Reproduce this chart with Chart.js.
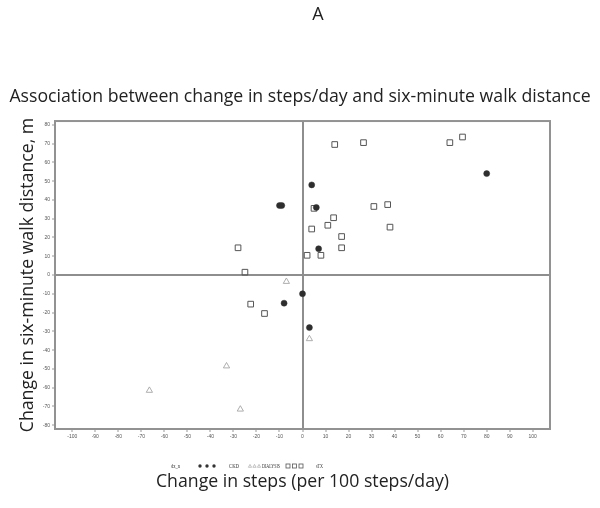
<!DOCTYPE html>
<html>
<head>
<meta charset="utf-8">
<script src="https://cdn.jsdelivr.net/npm/chart.js@4.4.1/dist/chart.umd.min.js"></script>
<style>
  html, body { margin: 0; padding: 0; background: #fff; }
  #wrap { width: 600px; height: 508px; }
</style>
</head>
<body>
<div id="wrap"><canvas id="myChart"></canvas></div>
<script>
// ---- data ----
const ckdSteps = [-10, -9, 4, 6, 7, 80, 0, -8, 3];
const ckdWalk = [37, 37, 48, 36, 14, 54, -10, -15, -28];

const dialysisSteps = [-7, 3, -33, -66.5, -27];
const dialysisWalk = [-3.5, -34, -48.5, -61.5, -71.5];

const stxSteps = [14, 26.5, 64, 69.5, 31, 37, 5, 13.5, 11, 4, 38, 17, 17, 2, 8, -28, -25, -22.5, -16.5];
const stxWalk = [69.5, 70.5, 70.5, 73.5, 36.5, 37.5, 35.5, 30.5, 26.5, 24.5, 25.5, 20.5, 14.5, 10.5, 10.5, 14.5, 1.5, -15.5, -20.5];

const xTicks = [-100, -90, -80, -70, -60, -50, -40, -30, -20, -10, 0, 10, 20, 30, 40, 50, 60, 70, 80, 90, 100];
const yTicks = [-80, -70, -60, -50, -40, -30, -20, -10, 0, 10, 20, 30, 40, 50, 60, 70, 80];

const titleFont = "'Open Sans', 'Liberation Sans', sans-serif";

function toPoints(xs, ys) {
  return xs.map((x, i) => ({ x: x, y: ys[i] }));
}

// zero lines only, the rest of the grid stays hidden
function gridColor(ctx) {
  return ctx.tick && ctx.tick.value === 0 ? "#8e8e8e" : "rgba(0,0,0,0)";
}
function gridWidth(ctx) {
  return ctx.tick && ctx.tick.value === 0 ? 2 : 0;
}

// frame round the plot, panel letter and the SAS style legend
const extras = {
  id: "extras",
  afterDraw(chart) {
    const ctx = chart.ctx;
    const a = chart.chartArea;
    ctx.save();
    ctx.strokeStyle = "#929292";
    ctx.lineWidth = 2;
    ctx.strokeRect(a.left, a.top, a.right - a.left, a.bottom - a.top);

    ctx.fillStyle = "#222";
    ctx.font = "18px " + titleFont;
    ctx.textAlign = "center";
    ctx.textBaseline = "middle";
    ctx.fillText("A", 318, 15);

    // legend
    const ly = 466;
    ctx.font = "6px 'Liberation Serif', serif";
    ctx.textAlign = "left";
    ctx.fillStyle = "#333";
    ctx.fillText("dx_n", 171, ly, 9);
    ctx.fillText("CKD", 229, ly, 10);
    ctx.fillText("DIALYSIS", 262, ly, 18);
    ctx.fillText("sTX", 316, ly, 7);
    for (let i = 0; i < 3; i++) {
      ctx.beginPath();
      ctx.fillStyle = "#333";
      ctx.arc(200 + i * 7, ly, 1.7, 0, Math.PI * 2);
      ctx.fill();

      const tx = 250 + i * 4.5;
      ctx.beginPath();
      ctx.strokeStyle = "#aaa";
      ctx.lineWidth = 0.7;
      ctx.moveTo(tx, ly - 1.6);
      ctx.lineTo(tx + 1.6, ly + 1.3);
      ctx.lineTo(tx - 1.6, ly + 1.3);
      ctx.closePath();
      ctx.stroke();

      ctx.strokeStyle = "#555";
      ctx.lineWidth = 0.8;
      ctx.strokeRect(286 + i * 6.5, ly - 2, 4, 4);
    }
    ctx.restore();
  }
};

const data = {
  datasets: [
    {
      label: "CKD",
      data: toPoints(ckdSteps, ckdWalk),
      pointStyle: "circle",
      pointRadius: 3,
      backgroundColor: "#2e2e2e",
      borderColor: "#2e2e2e",
      borderWidth: 0.5,
    },
    {
      label: "DIALYSIS",
      data: toPoints(dialysisSteps, dialysisWalk),
      pointStyle: "triangle",
      pointRadius: 3.6,
      backgroundColor: "rgba(255,255,255,0)",
      borderColor: "#a5a5a5",
      borderWidth: 0.9,
    },
    {
      label: "sTX",
      data: toPoints(stxSteps, stxWalk),
      pointStyle: "rect",
      pointRadius: 4,
      backgroundColor: "rgba(255,255,255,0)",
      borderColor: "#555",
      borderWidth: 1,
    },
  ],
};

const config = {
  type: "scatter",
  data: data,
  plugins: [extras],
  options: {
    responsive: true,
    maintainAspectRatio: false,
    animation: false,
    layout: { padding: 0 },
    plugins: {
      legend: { display: false },
      tooltip: { enabled: false },
      title: {
        display: true,
        text: "Association between change in steps/day and six-minute walk distance",
        color: "#222",
        font: { family: titleFont, size: 17.7, weight: "normal" },
        padding: { top: 86.4, bottom: 13.4 },
      },
    },
    scales: {
      x: {
        type: "linear",
        min: -107.5,
        max: 107.5,
        afterBuildTicks: (s) => { s.ticks = xTicks.map((v) => ({ value: v })); },
        afterFit: (s) => { s.height = 79; },
        ticks: { color: "#555", font: { size: 5 }, padding: 2, maxRotation: 0, autoSkip: false },
        grid: { color: gridColor, lineWidth: gridWidth, tickColor: "#999", tickWidth: 1, tickLength: 3 },
        border: { display: false },
        title: {
          display: true,
          text: "Change in steps (per 100 steps/day)",
          color: "#222",
          font: { family: titleFont, size: 17.7 },
          padding: { top: 0, bottom: 15.5 },
        },
      },
      y: {
        type: "linear",
        min: -82,
        max: 82,
        afterBuildTicks: (s) => { s.ticks = yTicks.map((v) => ({ value: v })); },
        afterFit: (s) => { s.width = 55; },
        ticks: { color: "#555", font: { size: 5 }, padding: 2, autoSkip: false },
        grid: { color: gridColor, lineWidth: gridWidth, tickColor: "#999", tickWidth: 1, tickLength: 3 },
        border: { display: false },
        title: {
          display: true,
          text: "Change in six-minute walk distance, m",
          color: "#222",
          font: { family: titleFont, size: 17.7 },
          padding: { top: 17.4, bottom: 0 },
        },
      },
      // empty right-hand box, keeps the plot clear of the right edge
      yRight: {
        type: "linear",
        position: "right",
        min: -82,
        max: 82,
        afterFit: (s) => { s.width = 50; },
        ticks: { display: false },
        grid: { display: false },
        border: { display: false },
      },
    },
  },
};

const myChart = new Chart(document.getElementById("myChart"), config);
</script>
</body>
</html>
